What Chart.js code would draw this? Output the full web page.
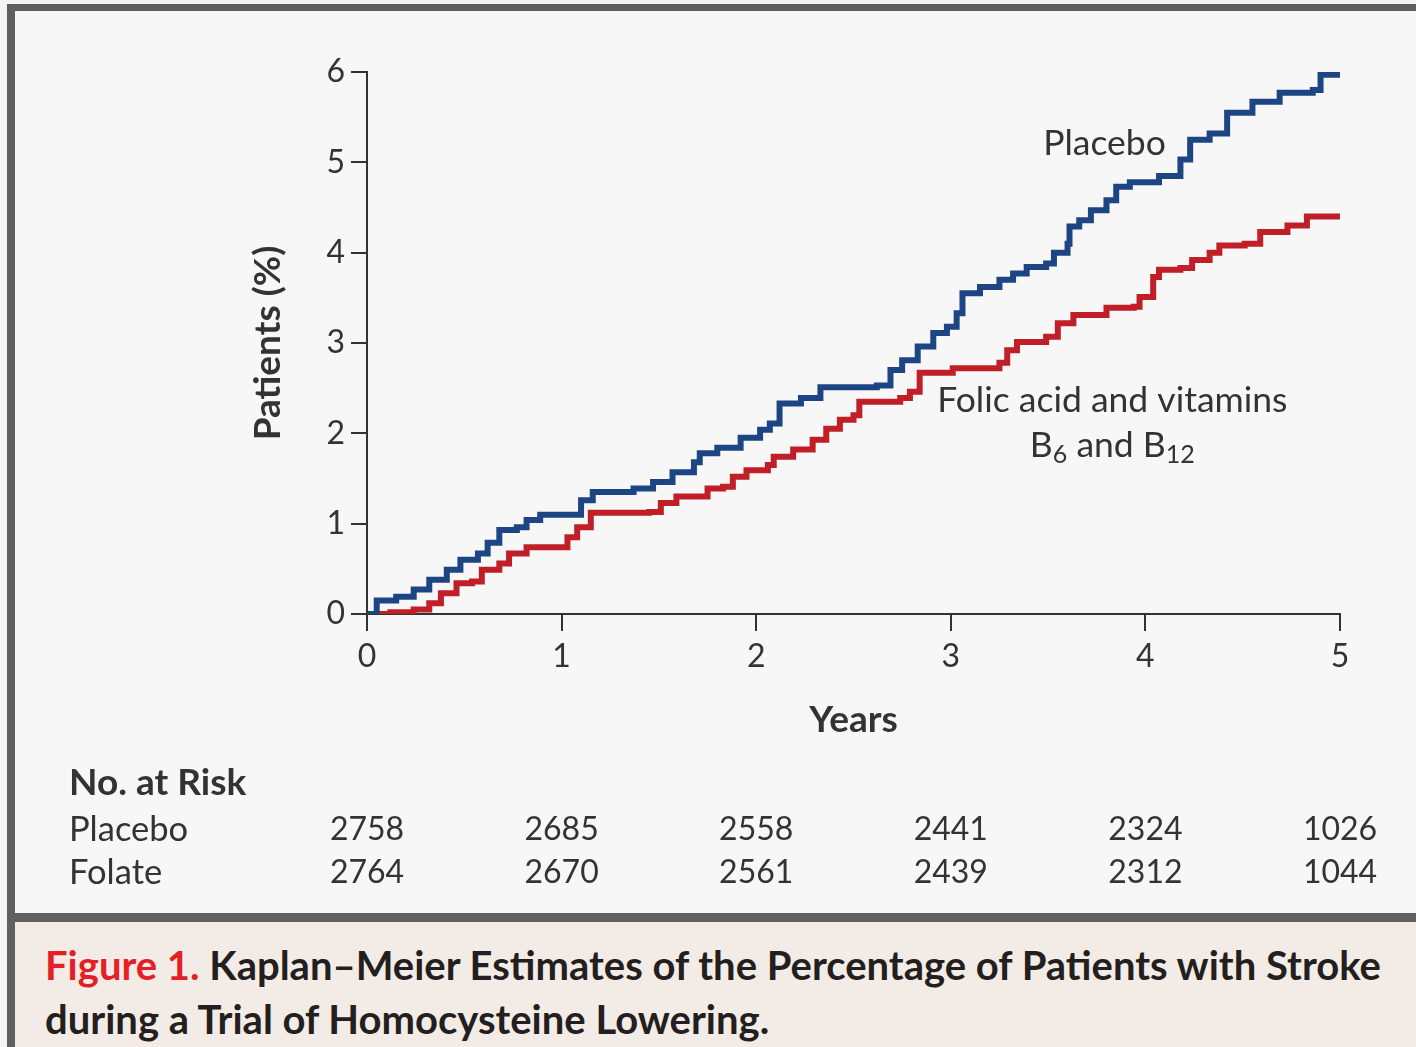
<!DOCTYPE html>
<html>
<head>
<meta charset="utf-8">
<script src="https://cdn.jsdelivr.net/npm/chart.js@4.4.1/dist/chart.umd.min.js"></script>
<style>
  html, body { margin: 0; padding: 0; background: #f4f4f4; overflow: hidden; }
  #frame {
    position: absolute; left: 7px; top: 4px; width: 1420px; height: 1100px;
    border-left: 8px solid #606060; border-top: 7px solid #606060;
    background: #f7f7f7;
  }
  #chartBox { position: absolute; left: 0; top: 0; width: 1401px; height: 902px; }
  #sep { position: absolute; left: 0; top: 902px; width: 1420px; height: 9px; background: #606060; }
  #caption {
    position: absolute; left: 0; top: 911px; width: 1420px; height: 200px;
    background: #f3ebe6; font-family: Lato, "Open Sans", sans-serif; font-weight: 700;
    font-size: 40px; color: #231f20; line-height: 54px; padding: 16px 0 0 30px; box-sizing: border-box;
    white-space: nowrap;
  }
  #caption .fig { color: #e41f26; }
</style>
</head>
<body>
<div id="frame">
  <div id="chartBox"><canvas id="kmChart"></canvas></div>
  <div id="sep"></div>
  <div id="caption"><span class="fig">Figure 1.</span> Kaplan–Meier Estimates of the Percentage of Patients with Stroke<br>during a Trial of Homocysteine Lowering.</div>
</div>
<script>
// years / cumulative % with stroke
const placeboYears = [0, 0.05, 0.15, 0.24, 0.32, 0.41, 0.48, 0.57, 0.62, 0.68, 0.77, 0.82, 0.89, 1.08, 1.10, 1.16,
  1.30, 1.37, 1.47, 1.57, 1.68, 1.71, 1.80, 1.92, 2.02, 2.07, 2.12, 2.23, 2.33, 2.62, 2.69, 2.75, 2.83, 2.91,
  2.98, 3.03, 3.06, 3.15, 3.25, 3.32, 3.39, 3.49, 3.53, 3.60, 3.61, 3.66, 3.72, 3.80, 3.85, 3.92, 4.07, 4.18,
  4.23, 4.33, 4.42, 4.55, 4.69, 4.86, 4.90, 5.00];
const placeboPct = [0, 0.15, 0.19, 0.27, 0.38, 0.49, 0.60, 0.67, 0.79, 0.93, 0.96, 1.04, 1.10, 1.10, 1.26, 1.35,
  1.35, 1.39, 1.46, 1.57, 1.68, 1.78, 1.84, 1.95, 2.04, 2.11, 2.33, 2.39, 2.51, 2.53, 2.70, 2.81, 2.96, 3.11,
  3.18, 3.33, 3.55, 3.62, 3.70, 3.77, 3.84, 3.88, 4.00, 4.10, 4.29, 4.36, 4.47, 4.58, 4.73, 4.78, 4.85, 5.03,
  5.25, 5.32, 5.55, 5.67, 5.77, 5.80, 5.97, 5.97];

const folateYears = [0.03, 0.12, 0.24, 0.32, 0.38, 0.46, 0.54, 0.59, 0.68, 0.73, 0.82, 0.96, 1.03, 1.08, 1.15,
  1.45, 1.51, 1.59, 1.75, 1.83, 1.88, 1.95, 2.06, 2.09, 2.19, 2.29, 2.36, 2.43, 2.50, 2.53, 2.74, 2.79, 2.84,
  3.01, 3.25, 3.29, 3.34, 3.49, 3.55, 3.63, 3.80, 3.94, 3.97, 4.04, 4.07, 4.18, 4.24, 4.33, 4.38, 4.51, 4.59,
  4.73, 4.83, 5.00];
const folatePct = [0, 0.02, 0.05, 0.12, 0.23, 0.34, 0.36, 0.49, 0.56, 0.67, 0.74, 0.74, 0.85, 0.96, 1.12,
  1.13, 1.23, 1.30, 1.39, 1.41, 1.52, 1.59, 1.65, 1.74, 1.82, 1.93, 2.05, 2.15, 2.20, 2.35, 2.39, 2.46, 2.67,
  2.72, 2.78, 2.92, 3.01, 3.07, 3.22, 3.31, 3.39, 3.40, 3.51, 3.73, 3.81, 3.83, 3.92, 4.00, 4.08, 4.10, 4.23,
  4.30, 4.40, 4.40];

const riskYears = [0, 1, 2, 3, 4, 5];
const placeboAtRisk = [2758, 2685, 2558, 2441, 2324, 1026];
const folateAtRisk = [2764, 2670, 2561, 2439, 2312, 1044];

const BLUE = "#1d4583";
const RED = "#c11f28";
const INK = "#333333";
const FONT = "Lato, 'Open Sans', sans-serif";

function toPoints(xs, ys) {
  return xs.map((x, i) => ({ x: x, y: ys[i] }));
}

const overlayPlugin = {
  id: "overlay",
  afterDraw(chart) {
    const ctx = chart.ctx;
    const xs = chart.scales.x;
    const ys = chart.scales.y;
    ctx.save();
    ctx.fillStyle = INK;
    ctx.textBaseline = "middle";

    // curve labels
    ctx.font = "35.5px " + FONT;
    ctx.textAlign = "center";
    ctx.fillText("Placebo", xs.getPixelForValue(3.79), ys.getPixelForValue(5.21));
    const cx = xs.getPixelForValue(3.83);
    ctx.fillText("Folic acid and vitamins", cx, ys.getPixelForValue(2.36));

    // "B6 and B12" with subscripts
    const lineY = ys.getPixelForValue(1.87);
    const big = "35.5px " + FONT, small = "25px " + FONT;
    const parts = [["B", big, 0], ["6", small, 10], [" and B", big, 0], ["12", small, 10]];
    let total = 0;
    parts.forEach(p => { ctx.font = p[1]; total += ctx.measureText(p[0]).width; });
    let px = cx - total / 2;
    ctx.textAlign = "left";
    parts.forEach(p => {
      ctx.font = p[1];
      ctx.fillText(p[0], px, lineY + p[2]);
      px += ctx.measureText(p[0]).width;
    });

    // number at risk table
    ctx.font = "bold 37px " + FONT;
    ctx.fillText("No. at Risk", 54, 772);
    ctx.font = "34.5px " + FONT;
    ctx.fillText("Placebo", 54, 819);
    ctx.fillText("Folate", 54, 862);
    ctx.font = "32px " + FONT;
    ctx.textAlign = "center";
    riskYears.forEach((yr, i) => {
      const x = xs.getPixelForValue(yr);
      ctx.fillText(String(placeboAtRisk[i]), x, 819);
      ctx.fillText(String(folateAtRisk[i]), x, 862);
    });
    ctx.restore();
  }
};

const ctx = document.getElementById("kmChart").getContext("2d");
const kmChart = new Chart(ctx, {
  type: "line",
  data: {
    datasets: [
      {
        label: "Placebo",
        data: toPoints(placeboYears, placeboPct),
        borderColor: BLUE,
        borderWidth: 6,
        stepped: true,
        pointRadius: 0,
        fill: false
      },
      {
        label: "Folic acid and vitamins B6 and B12",
        data: toPoints(folateYears, folatePct),
        borderColor: RED,
        borderWidth: 6,
        stepped: true,
        pointRadius: 0,
        fill: false
      }
    ]
  },
  options: {
    responsive: true,
    maintainAspectRatio: false,
    animation: false,
    layout: { padding: { left: 0, top: 61, right: 76, bottom: 169 } },
    plugins: { legend: { display: false }, tooltip: { enabled: false } },
    scales: {
      x: {
        type: "linear",
        min: 0,
        max: 5,
        afterFit: s => { s.height = 130; },
        ticks: { stepSize: 1, color: INK, font: { family: FONT, size: 32 }, padding: 6 },
        grid: { drawOnChartArea: false, drawTicks: true, tickLength: 17, color: INK, lineWidth: 2 },
        border: { color: INK, width: 2 },
        title: { display: true, text: "Years", color: INK, font: { family: FONT, size: 37, weight: "bold" }, padding: { top: 0, bottom: 2 } }
      },
      y: {
        min: 0,
        max: 6,
        afterFit: s => { s.width = 352; },
        ticks: { stepSize: 1, color: INK, font: { family: FONT, size: 32 }, padding: 6 },
        grid: { drawOnChartArea: false, drawTicks: true, tickLength: 16, color: INK, lineWidth: 2 },
        border: { color: INK, width: 2 },
        title: { display: true, text: "Patients (%)", color: INK, font: { family: FONT, size: 37, weight: "bold" }, padding: { top: 231, bottom: 0 } }
      }
    }
  },
  plugins: [overlayPlugin]
});
</script>
</body>
</html>
